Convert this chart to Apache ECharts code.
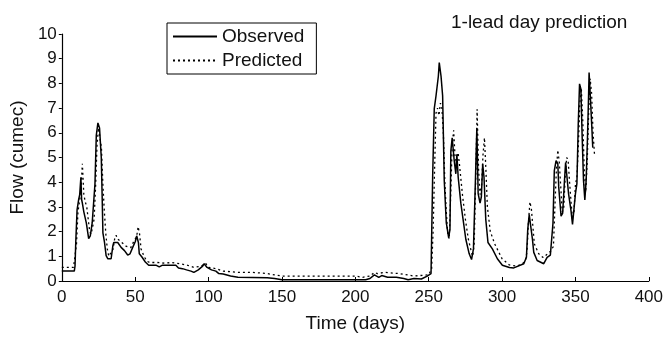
<!DOCTYPE html>
<html>
<head>
<meta charset="utf-8">
<script src="https://cdn.jsdelivr.net/npm/echarts@6/dist/echarts.min.js"></script>
<style>
html,body{margin:0;padding:0;background:#fff;}
#chart{width:666px;height:338px;}
</style>
</head>
<body>
<div id="chart"></div>
<script>
// ---- data ----
var obsDays = [0,8.5,9,9.5,10.4,11.5,12.2,13,13.5,14,15,16.7,18.3,19.4,20.7,21.5,22.6,23.5,24.6,25.7,26.9,27.5,28,29.1,30.2,31.4,33.6,34.8,35.4,38.1,40.4,42.7,44.9,46.5,48.3,50.1,51,52.2,52.8,54.6,56.9,59.2,64.1,66.4,68.6,77.7,79.5,82.2,85,88,90,93,96,97,99,102,105,107,110,115,120,140,145,150,207,210,213,216,218,222,228,233,236,240,245,249,251.6,252.7,253.8,255,256.6,257.2,258.4,259.5,260.6,262,263.6,264.5,265.1,266,267.4,268.5,269.2,270.1,271.9,275.3,277.6,279.2,280.5,281.9,282.8,283.7,285,285.9,286.8,287.7,288.9,290.4,293.4,296.8,300.2,305,308,314.8,316.6,317.5,318.5,319.8,320.7,321.6,323.9,328.4,330.7,332.9,334.1,334.7,335.6,336.8,338,338.6,340.2,341.3,342.4,343.3,344.2,345.3,346.9,348,348.9,350,351,351.9,352.8,353.7,354.6,355.5,356.4,357.3,358.2,358.9,359.3,360,361.2,361.8];
var obsFlow = [0.4,0.4,0.6,1.56,2.88,3.3,3.5,4.2,3.3,3.15,2.8,2.35,1.72,1.83,2.35,2.3,3.94,5.9,6.4,6.2,5.0,3.4,1.95,1.56,1.03,0.9,0.9,1.43,1.56,1.56,1.36,1.23,1.05,1.1,1.36,1.6,1.83,1.56,1.1,0.97,0.77,0.64,0.64,0.57,0.64,0.64,0.53,0.5,0.45,0.4,0.35,0.45,0.6,0.7,0.55,0.45,0.4,0.3,0.28,0.2,0.15,0.13,0.1,0.05,0.05,0.1,0.25,0.15,0.22,0.15,0.15,0.1,0.05,0.1,0.08,0.2,0.3,4.2,6.98,7.5,8.3,8.84,8.3,7.5,4.07,2.35,1.76,2.09,5.26,5.8,4.87,4.34,5.13,4.2,3.15,1.69,1.1,0.87,1.3,4.2,6.19,3.54,3.15,3.41,4.74,4.2,2.49,1.56,1.3,0.9,0.64,0.55,0.53,0.7,0.96,2.09,2.69,2.62,1.69,1.16,0.83,0.7,0.96,1.05,1.0,2.35,4.47,4.87,4.74,3.81,2.62,2.75,3.94,4.8,4.74,3.54,2.88,2.29,2.29,3.54,3.94,6.32,7.98,7.78,5.8,4.07,3.28,4.07,5.8,7.38,8.44,7.65,6.19,5.4];

var predDays = [0,8,9,10,11,13,14,15,16,17,18,19,20,21,22,23,24,25,26,27,28,29,30,31,32,33,35,36,37,38,40,44,47,49,51,52,53,54,56,58,60,65,70,75,80,85,90,95,98,100,105,110,120,130,140,145,150,200,205,210,213,215,220,230,240,250,252,253,254,255,256,257,258,259,260,261,262,263,264,265,266,267,268,269,270,271,273,275,277,279,280,281,282,283,284,285,286,287,288,289,290,292,295,300,305,310,314,316,317,318,319,320,321,322,325,328,331,333,335,336,337,338,339,340,341,342,343,344,345,346,347,348,349,350,351,352,353,354,355,356,357,358,359,360,361,362,363];
var predFlow = [0.55,0.55,0.5,1.5,2.8,3.6,4.75,3.5,3.2,3.0,2.5,2.0,1.9,2.2,2.5,3.8,5.5,6.2,5.8,5.4,3.9,2.8,1.9,1.3,1.0,1.05,1.3,1.7,1.85,1.7,1.6,1.4,1.35,1.6,1.8,2.2,1.9,1.3,1.0,0.8,0.75,0.75,0.72,0.75,0.7,0.65,0.55,0.6,0.72,0.55,0.5,0.4,0.35,0.35,0.3,0.25,0.2,0.2,0.15,0.2,0.35,0.3,0.35,0.3,0.2,0.25,0.5,2.0,4.5,6.8,7.0,6.7,7.2,7.0,6.0,4.0,2.8,1.9,1.7,3.5,5.5,6.1,5.0,4.8,5.2,4.7,3.5,2.5,1.7,1.2,1.0,1.5,4.0,6.95,4.5,3.5,3.8,5.1,5.8,4.5,3.0,2.0,1.5,0.9,0.65,0.6,0.7,0.85,1.2,2.4,3.2,2.9,2.2,1.5,1.1,0.95,1.1,1.2,1.4,3.0,4.5,5.3,4.8,3.8,2.8,2.9,4.2,5.0,4.9,4.0,3.2,2.5,2.8,3.9,4.2,5.5,7.2,7.8,6.5,4.5,3.6,4.8,6.8,8.2,7.6,6.0,5.1];

var xTicks = [0,50,100,150,200,250,300,350,400];
var yTicks = [0,1,2,3,4,5,6,7,8,9,10];

function pairs(xs, ys){ var out=[]; for(var i=0;i<xs.length;i++){ out.push([xs[i], ys[i]]); } return out; }

var FONT = 'Liberation Sans, Arial, Helvetica, sans-serif';
var chart = echarts.init(document.getElementById('chart'), null, {renderer:'canvas'});
chart.setOption({
  animation:false,
  backgroundColor:'#fff',
  title:{
    text:'1-lead day prediction',
    left:446, top:8,
    textStyle:{fontFamily:FONT, fontSize:19, fontWeight:'normal', color:'#111'}
  },
  legend:{
    orient:'vertical',
    left:167, top:23,
    borderColor:'#000', borderWidth:1,
    padding:[4,12,4,5],
    itemWidth:44, itemHeight:14, itemGap:5,
    itemStyle:{opacity:0},
    textStyle:{fontFamily:FONT, fontSize:19, color:'#111'},
    data:['Observed','Predicted']
  },
  grid:{left:58.7, right:17, top:34, bottom:52, containLabel:false},
  xAxis:{
    type:'value', min:xTicks[0], max:xTicks[xTicks.length-1], interval:50,
    name:'Time (days)', nameLocation:'middle', nameGap:33,
    nameTextStyle:{fontFamily:FONT, fontSize:19, color:'#111'},
    axisLine:{show:true, onZero:false, lineStyle:{color:'#000', width:1.2}},
    axisTick:{show:true, inside:true, length:4, lineStyle:{color:'#000'}},
    axisLabel:{fontFamily:FONT, fontSize:17, color:'#111', margin:8},
    splitLine:{show:false}
  },
  yAxis:{
    type:'value', min:yTicks[0], max:yTicks[yTicks.length-1], interval:1,
    name:'Flow (cumec)', nameLocation:'middle', nameGap:32, nameRotate:90,
    nameTextStyle:{fontFamily:FONT, fontSize:19, color:'#111'},
    axisLine:{show:true, lineStyle:{color:'#000', width:1.2}},
    axisTick:{show:true, inside:false, length:3, lineStyle:{color:'#000'}},
    axisLabel:{fontFamily:FONT, fontSize:17, color:'#111', margin:5},
    splitLine:{show:false}
  },
  series:[
    {name:'Observed', type:'line', data:pairs(obsDays, obsFlow), symbol:'none', showSymbol:false,
     lineStyle:{color:'#000', width:1.5, type:'solid'}, itemStyle:{color:'#000'}},
    {name:'Predicted', type:'line', data:pairs(predDays, predFlow), symbol:'none', showSymbol:false,
     lineStyle:{color:'#000', width:1.3, type:[2,3]}, itemStyle:{color:'#000'}}
  ]
});
</script>
</body>
</html>
